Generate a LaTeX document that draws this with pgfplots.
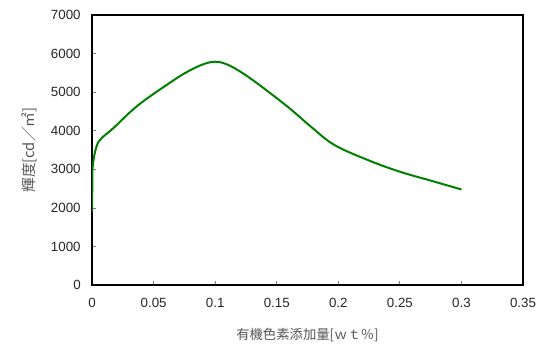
\documentclass[border=0pt]{standalone}
\usepackage{pgfplots}
\pgfplotsset{compat=1.18}
\usepackage{fontspec}
\setmainfont{Noto Sans CJK JP}
\newfontfamily\numfont{Liberation Sans}
\definecolor{curve}{RGB}{0,128,0}
\definecolor{lab}{RGB}{85,85,85}
\begin{document}
\begin{tikzpicture}
\begin{axis}[
  scale only axis,
  width=323pt, height=202.5pt,
  xmin=0, xmax=0.35, ymin=0, ymax=7000,
  xtick={0,0.05,...,0.35},
  ytick={0,1000,...,7000},
  xticklabels={0,0.05,0.1,0.15,0.2,0.25,0.3,0.35},
  scaled x ticks=false,
  scaled y ticks=false,
  /pgf/number format/assume math mode=true,
  yticklabel style={/pgf/number format/.cd,fixed,1000 sep={},/tikz/.cd},
  tick label style={font=\numfont\fontsize{10}{11}\selectfont, text=black!85},
  tick align=inside,
  tick pos=left,
  major tick length=3pt,
  major tick style={gray, line width=0.6pt},
  axis line style={line width=1.4pt, black},
  xlabel={有機色素添加量[ｗｔ％]},
  ylabel={輝度[cd／㎡]},
  xlabel style={font=\fontsize{10}{11}\selectfont, text=lab,
    at={(axis description cs:0.5,0)}, anchor=center, yshift=-37.5pt},
  ylabel style={font=\fontsize{11}{12}\selectfont, text=lab,
    at={([xshift=-47pt]axis description cs:0,0.5)}, anchor=center},
  xticklabel style={anchor=center, yshift=-13.5pt},
  yticklabel style={anchor=east, xshift=-5pt},
]
\addplot[curve, line width=1.5pt, smooth, tension=0.6] coordinates {
(0,1900) (0.0002,2500) (0.0006,3100) (0.0035,3580) (0.0075,3800) (0.017,4060)
(0.0373,4660) (0.0644,5270) (0.078,5540) (0.09,5720) (0.0995,5790)
(0.108,5740) (0.118,5580) (0.132,5280) (0.159,4620) (0.178,4100) (0.197,3630) (0.225,3230)
(0.25,2940) (0.275,2710) (0.3,2480)
};
\end{axis}
\path (0,0)++(-69pt,-46.5pt) (323pt,202.5pt)++(13.5pt,11.25pt);
\end{tikzpicture}
\end{document}
